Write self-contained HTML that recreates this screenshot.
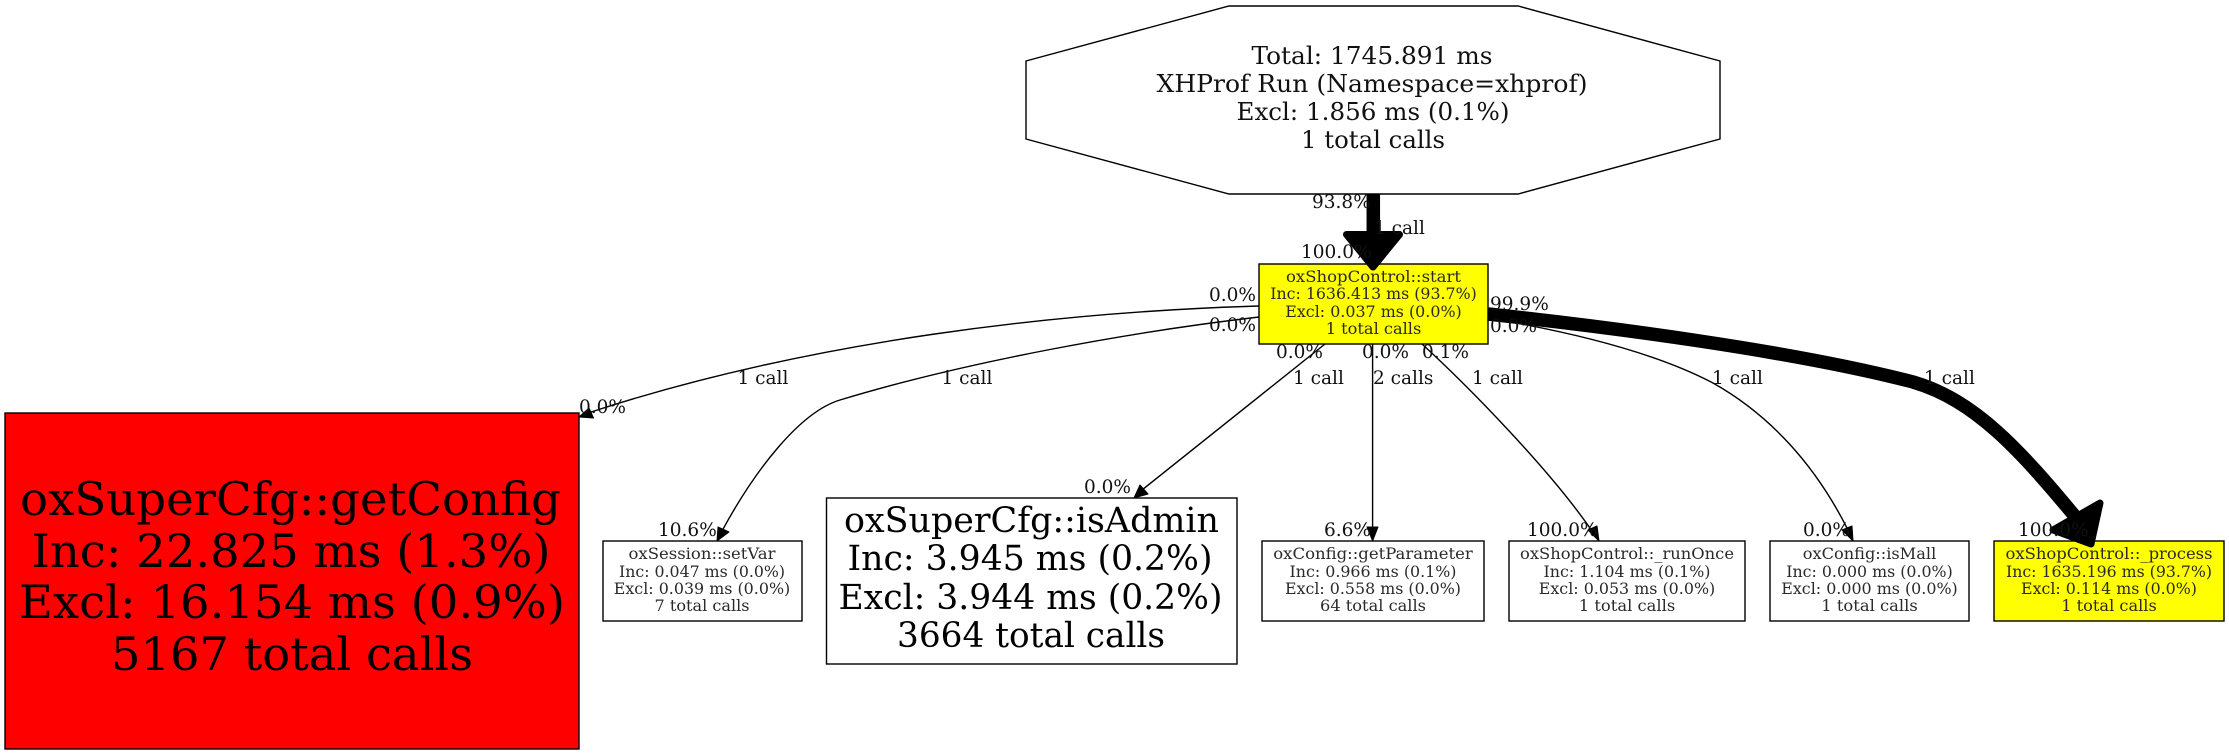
<!DOCTYPE html>
<html><head><meta charset="utf-8"><style>
html,body{margin:0;padding:0;background:#fff}
svg{display:block}
text{font-family:"DejaVu Serif",serif;text-anchor:middle;fill:#000}
.l{font-size:18.5px;text-anchor:start;fill:#111}
.s{font-size:15.5px;fill:#2a2a2a}
.t{font-size:24.5px;fill:#111}
.a{font-size:34.5px}
.r{font-size:45.5px}
</style></head><body>
<svg width="2229" height="755" viewBox="0 0 2229 755" xmlns="http://www.w3.org/2000/svg">
<rect width="2229" height="755" fill="#fff"/>
<g fill="none" stroke="#000" stroke-width="1.4">
<polygon fill="#fff" points="1229,6 1518,6 1720,61 1720,139 1518,194 1229,194 1026,139 1026,61"/>
<rect x="1259" y="264" width="229" height="80" fill="#ff0"/>
<rect x="5" y="413" width="574" height="336" fill="#f00"/>
<rect x="603" y="541" width="199" height="80" fill="#fff"/>
<rect x="826.5" y="498" width="410.5" height="166" fill="#fff"/>
<rect x="1262" y="541" width="222" height="80" fill="#fff"/>
<rect x="1509" y="541" width="236" height="80" fill="#fff"/>
<rect x="1770" y="541" width="199" height="80" fill="#fff"/>
<rect x="1994" y="541" width="230" height="80" fill="#ff0"/>
</g>
<g>
<text class="t" x="1372" y="64" textLength="241" lengthAdjust="spacingAndGlyphs">Total: 1745.891 ms</text>
<text class="t" x="1372" y="92" textLength="431" lengthAdjust="spacingAndGlyphs">XHProf Run (Namespace=xhprof)</text>
<text class="t" x="1373" y="120" textLength="273" lengthAdjust="spacingAndGlyphs">Excl: 1.856 ms (0.1%)</text>
<text class="t" x="1373" y="148" textLength="144" lengthAdjust="spacingAndGlyphs">1 total calls</text>
<text class="s" x="1373.5" y="282" textLength="175" lengthAdjust="spacingAndGlyphs">oxShopControl::start</text>
<text class="s" x="1373.5" y="299" textLength="206.5" lengthAdjust="spacingAndGlyphs">Inc: 1636.413 ms (93.7%)</text>
<text class="s" x="1373.5" y="317" textLength="176.5" lengthAdjust="spacingAndGlyphs">Excl: 0.037 ms (0.0%)</text>
<text class="s" x="1373.5" y="334" textLength="95.5" lengthAdjust="spacingAndGlyphs">1 total calls</text>
<text class="r" x="290.5" y="515" textLength="541" lengthAdjust="spacingAndGlyphs">oxSuperCfg::getConfig</text>
<text class="r" x="291" y="567" textLength="519" lengthAdjust="spacingAndGlyphs">Inc: 22.825 ms (1.3%)</text>
<text class="r" x="292" y="618" textLength="546" lengthAdjust="spacingAndGlyphs">Excl: 16.154 ms (0.9%)</text>
<text class="r" x="292" y="670" textLength="362" lengthAdjust="spacingAndGlyphs">5167 total calls</text>
<text class="s" x="702" y="559" textLength="147" lengthAdjust="spacingAndGlyphs">oxSession::setVar</text>
<text class="s" x="702" y="577" textLength="166" lengthAdjust="spacingAndGlyphs">Inc: 0.047 ms (0.0%)</text>
<text class="s" x="702" y="594" textLength="176.5" lengthAdjust="spacingAndGlyphs">Excl: 0.039 ms (0.0%)</text>
<text class="s" x="702" y="611" textLength="95" lengthAdjust="spacingAndGlyphs">7 total calls</text>
<text class="a" x="1031.5" y="532" textLength="375" lengthAdjust="spacingAndGlyphs">oxSuperCfg::isAdmin</text>
<text class="a" x="1030" y="570" textLength="365" lengthAdjust="spacingAndGlyphs">Inc: 3.945 ms (0.2%)</text>
<text class="a" x="1030.5" y="609" textLength="384" lengthAdjust="spacingAndGlyphs">Excl: 3.944 ms (0.2%)</text>
<text class="a" x="1031" y="647" textLength="268" lengthAdjust="spacingAndGlyphs">3664 total calls</text>
<text class="s" x="1373" y="559" textLength="199.5" lengthAdjust="spacingAndGlyphs">oxConfig::getParameter</text>
<text class="s" x="1373" y="577" textLength="167" lengthAdjust="spacingAndGlyphs">Inc: 0.966 ms (0.1%)</text>
<text class="s" x="1373" y="594" textLength="176" lengthAdjust="spacingAndGlyphs">Excl: 0.558 ms (0.0%)</text>
<text class="s" x="1373" y="611" textLength="106" lengthAdjust="spacingAndGlyphs">64 total calls</text>
<text class="s" x="1627" y="559" textLength="214" lengthAdjust="spacingAndGlyphs">oxShopControl::_runOnce</text>
<text class="s" x="1627" y="577" textLength="167" lengthAdjust="spacingAndGlyphs">Inc: 1.104 ms (0.1%)</text>
<text class="s" x="1627" y="594" textLength="176.5" lengthAdjust="spacingAndGlyphs">Excl: 0.053 ms (0.0%)</text>
<text class="s" x="1627" y="611" textLength="96.5" lengthAdjust="spacingAndGlyphs">1 total calls</text>
<text class="s" x="1869.5" y="559" textLength="133.5" lengthAdjust="spacingAndGlyphs">oxConfig::isMall</text>
<text class="s" x="1869.5" y="577" textLength="166.5" lengthAdjust="spacingAndGlyphs">Inc: 0.000 ms (0.0%)</text>
<text class="s" x="1869.5" y="594" textLength="176.5" lengthAdjust="spacingAndGlyphs">Excl: 0.000 ms (0.0%)</text>
<text class="s" x="1869.5" y="611" textLength="96.5" lengthAdjust="spacingAndGlyphs">1 total calls</text>
<text class="s" x="2109" y="559" textLength="207" lengthAdjust="spacingAndGlyphs">oxShopControl::_process</text>
<text class="s" x="2109" y="577" textLength="206" lengthAdjust="spacingAndGlyphs">Inc: 1635.196 ms (93.7%)</text>
<text class="s" x="2109" y="594" textLength="176" lengthAdjust="spacingAndGlyphs">Excl: 0.114 ms (0.0%)</text>
<text class="s" x="2109" y="611" textLength="95.5" lengthAdjust="spacingAndGlyphs">1 total calls</text>
</g>
<g fill="none" stroke="#000">
<path stroke-width="1.4" d="M1259,306 C1060,312 810,340 588,413"/>
<path stroke-width="1.4" d="M1259,317 C1130,332 965,362 840,400 C800,412 755,470 722,531"/>
<path stroke-width="1.4" d="M1325,344 L1142,490"/>
<path stroke-width="1.4" d="M1372.6,344 L1372.6,528"/>
<path stroke-width="1.4" d="M1422,344 C1470,388 1550,470 1592,531"/>
<path stroke-width="1.4" d="M1488,318 C1560,330 1650,350 1713,383 C1770,415 1815,465 1847,528"/>
<path stroke-width="13.5" d="M1488,314 C1600,326 1790,350 1913,382 C1975,400 2020,450 2078,520"/>
<path stroke-width="13.5" d="M1373.3,194 L1373.3,235"/>
</g>
<g fill="#000" stroke="#000" stroke-linejoin="round">
<polygon stroke-width="7" points="1346.5,234.5 1399.5,234.5 1373,267"/>
<polygon stroke-width="7" points="2100,503 2053,530 2091,544"/>
<polygon stroke-width="1" points="579,417 589,408 593.5,418"/>
<polygon stroke-width="1" points="717,541 718,527 729,532"/>
<polygon stroke-width="1" points="1134,498 1140,485 1148,494"/>
<polygon stroke-width="1" points="1372.6,541 1367,527 1378,527"/>
<polygon stroke-width="1" points="1599,541 1588,530 1597,526"/>
<polygon stroke-width="1" points="1853,541 1842,530 1852,526"/>
</g>
<g>
<text class="l" x="1312" y="208">93.8%</text>
<text class="l" x="1374" y="234">1 call</text>
<text class="l" x="1301" y="258">100.0%</text>
<text class="l" x="1209" y="301">0.0%</text>
<text class="l" x="1209" y="331">0.0%</text>
<text class="l" x="1490" y="310">99.9%</text>
<text class="l" x="1490" y="332">0.0%</text>
<text class="l" x="1276" y="358">0.0%</text>
<text class="l" x="1362" y="358">0.0%</text>
<text class="l" x="1422" y="358">0.1%</text>
<text class="l" x="737.5" y="384">1 call</text>
<text class="l" x="941.5" y="384">1 call</text>
<text class="l" x="1293" y="384">1 call</text>
<text class="l" x="1373" y="384">2 calls</text>
<text class="l" x="1472" y="384">1 call</text>
<text class="l" x="1712" y="384">1 call</text>
<text class="l" x="1924" y="384">1 call</text>
<text class="l" x="579" y="413">0.0%</text>
<text class="l" x="658" y="536">10.6%</text>
<text class="l" x="1084" y="493">0.0%</text>
<text class="l" x="1324" y="536">6.6%</text>
<text class="l" x="1527" y="536">100.0%</text>
<text class="l" x="1803" y="536">0.0%</text>
<text class="l" x="2018" y="536">100.0%</text>
</g>
</svg>
</body></html>
